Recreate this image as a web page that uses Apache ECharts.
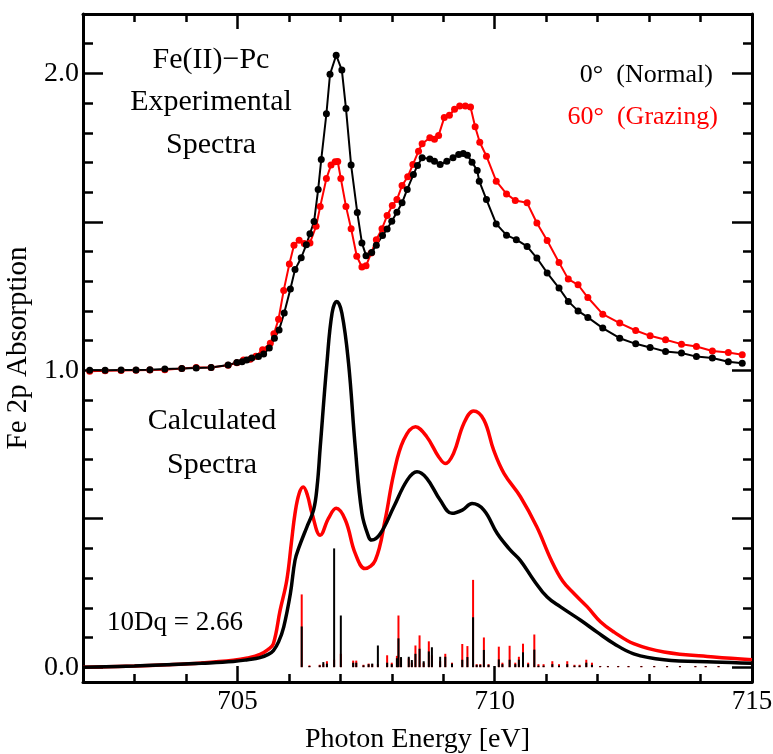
<!DOCTYPE html>
<html>
<head>
<meta charset="utf-8">
<script src="https://cdn.jsdelivr.net/npm/echarts@6/dist/echarts.min.js"></script>
<style>
html,body{margin:0;padding:0;background:#fff;}
#chart{width:773px;height:754px;}
</style>
</head>
<body>
<div id="chart"></div>
<script>
// ---- Data ----
// Experimental, 0° (Normal) – black
const expBlackE = [702.13,702.43,702.74,703.03,703.30,703.59,703.92,704.20,704.49,704.82,704.99,705.09,705.18,705.28,705.41,705.51,705.62,705.72,705.81,705.91,706.03,706.12,706.24,706.34,706.41,706.49,706.57,706.63,706.73,706.80,706.92,707.03,707.11,707.21,707.33,707.42,707.50,707.61,707.70,707.82,707.91,708.00,708.10,708.20,708.30,708.42,708.50,708.59,708.74,708.83,708.94,709.07,709.19,709.30,709.39,709.47,709.56,709.66,709.70,709.84,710.03,710.23,710.42,710.63,710.82,711.02,711.25,711.43,711.62,711.81,712.10,712.43,712.74,713.02,713.32,713.63,713.92,714.23,714.54,714.81];
const expBlackY = [1.000,1.000,1.001,1.001,1.002,1.004,1.006,1.008,1.009,1.018,1.026,1.029,1.035,1.041,1.046,1.055,1.075,1.108,1.136,1.193,1.274,1.339,1.379,1.423,1.460,1.501,1.609,1.710,1.864,1.997,2.061,2.011,1.882,1.691,1.531,1.429,1.386,1.397,1.421,1.454,1.476,1.502,1.532,1.564,1.609,1.659,1.690,1.716,1.712,1.704,1.693,1.704,1.716,1.727,1.730,1.724,1.701,1.673,1.637,1.575,1.493,1.455,1.440,1.417,1.378,1.328,1.277,1.232,1.200,1.178,1.142,1.108,1.089,1.077,1.063,1.058,1.046,1.041,1.029,1.024];
// Experimental, 60° (Grazing) – red
const expRedE = [702.13,702.43,702.74,703.03,703.30,703.59,703.92,704.20,704.49,704.82,704.99,705.12,705.25,705.36,705.49,705.64,705.71,705.80,705.90,706.01,706.10,706.20,706.30,706.41,706.53,706.61,706.73,706.82,706.90,706.95,707.01,707.11,707.21,707.32,707.42,707.50,707.60,707.70,707.81,707.91,708.01,708.10,708.20,708.31,708.41,708.52,708.59,708.74,708.83,708.91,709.02,709.12,709.22,709.32,709.43,709.53,709.62,709.71,709.84,710.03,710.23,710.40,710.63,710.82,711.02,711.25,711.43,711.62,711.81,712.10,712.43,712.74,713.02,713.32,713.63,713.92,714.23,714.54,714.81];
const expRedY = [0.997,0.998,0.999,1.000,1.001,1.002,1.006,1.009,1.009,1.017,1.025,1.035,1.037,1.047,1.069,1.091,1.123,1.172,1.269,1.358,1.421,1.438,1.427,1.429,1.485,1.552,1.646,1.691,1.702,1.703,1.646,1.552,1.477,1.384,1.348,1.352,1.395,1.440,1.477,1.521,1.555,1.575,1.622,1.652,1.693,1.738,1.763,1.783,1.778,1.791,1.851,1.859,1.879,1.890,1.890,1.887,1.820,1.768,1.721,1.637,1.594,1.572,1.564,1.496,1.437,1.363,1.307,1.288,1.245,1.189,1.159,1.134,1.116,1.103,1.088,1.080,1.065,1.060,1.052];
// Calculated – black
const calcBlackE = [702.0,703.0,703.63,704.3,704.92,705.2,705.44,705.6,705.7,705.8,705.9,706.03,706.12,706.2,706.35,706.48,706.55,706.61,706.74,706.84,706.93,707.03,707.16,707.29,707.42,707.55,707.61,707.78,708.04,708.30,708.49,708.68,708.94,709.17,709.37,709.56,709.79,710.05,710.30,710.50,710.76,711.02,711.28,711.67,711.99,712.32,712.70,713.29,714.26,715.0];
const calcBlackY = [0.000,0.004,0.008,0.013,0.019,0.025,0.032,0.043,0.056,0.085,0.135,0.248,0.360,0.405,0.472,0.529,0.610,0.742,1.024,1.193,1.232,1.193,1.024,0.742,0.518,0.439,0.428,0.450,0.540,0.630,0.658,0.636,0.563,0.518,0.529,0.551,0.529,0.450,0.395,0.359,0.293,0.236,0.203,0.158,0.118,0.079,0.045,0.025,0.017,0.013];
// Calculated – red
const calcRedE = [702.0,703.0,703.63,704.3,704.92,705.2,705.44,705.6,705.7,705.83,705.96,706.05,706.12,706.20,706.28,706.36,706.45,706.61,706.77,706.92,707.10,707.29,707.48,707.68,707.87,708.04,708.23,708.46,708.68,708.91,709.04,709.20,709.40,709.59,709.79,709.98,710.18,710.50,710.82,711.10,711.32,711.54,711.80,712.06,712.32,712.70,713.29,714.26,715.0];
const calcRedY = [0.000,0.004,0.008,0.014,0.023,0.031,0.043,0.060,0.079,0.191,0.293,0.420,0.518,0.585,0.607,0.580,0.518,0.444,0.501,0.535,0.495,0.383,0.332,0.360,0.495,0.653,0.765,0.810,0.776,0.709,0.686,0.720,0.821,0.863,0.833,0.731,0.653,0.574,0.472,0.360,0.290,0.248,0.203,0.152,0.118,0.079,0.051,0.034,0.025];
// Stick spectra
const stickE = [706.25,706.40,706.60,706.67,706.74,706.88,707.01,707.25,707.31,707.45,707.55,707.62,707.73,707.91,708.00,708.10,708.13,708.18,708.33,708.39,708.46,708.54,708.62,708.72,708.78,708.94,709.04,709.17,709.37,709.47,709.58,709.65,709.72,709.79,709.88,710.08,710.15,710.29,710.40,710.47,710.55,710.65,710.77,710.85,710.95,711.12,711.25,711.41,711.55,711.65,711.78,711.89,712.05,712.20,712.40,712.60,712.85,713.10,713.35,713.60,713.90,714.10,714.35];
const stickRed = [0.245,0.006,0.008,0.010,0.020,0.025,0.045,0.022,0.022,0.008,0.012,0.010,0.010,0.040,0.015,0.038,0.174,0.030,0.030,0.015,0.073,0.107,0.015,0.087,0.040,0.020,0.045,0.015,0.078,0.071,0.294,0.010,0.010,0.100,0.010,0.069,0.015,0.072,0.015,0.035,0.079,0.015,0.110,0.010,0.010,0.020,0.010,0.020,0.008,0.008,0.025,0.015,0.004,0.004,0.004,0.004,0.004,0.004,0.004,0.004,0.004,0.004,0.004];
const stickBlack = [0.137,0.004,0.006,0.017,0.012,0.400,0.174,0.015,0.015,0.006,0.010,0.012,0.073,0.015,0.010,0.030,0.097,0.034,0.035,0.024,0.045,0.062,0.020,0.053,0.067,0.035,0.035,0.012,0.025,0.034,0.168,0.008,0.008,0.058,0.008,0.026,0.010,0.025,0.010,0.025,0.050,0.010,0.059,0.005,0.005,0.010,0.005,0.010,0.005,0.005,0.015,0.008,0.003,0.003,0.003,0.003,0.003,0.003,0.003,0.003,0.003,0.003,0.003];
// Tick values
const xMinorTicks = [702,703,704,705,706,707,708,709,710,711,712,713,714,715];
const xMajorTicks = [705,710,715];
const xLabels = [705,710,715];
const yMinorTicks = [0,0.1,0.2,0.3,0.4,0.5,0.6,0.7,0.8,0.9,1.0,1.1,1.2,1.3,1.4,1.5,1.6,1.7,1.8,1.9,2.0,2.1,2.2];
const yMajorTicks = [0,0.5,1.0,1.5,2.0];
const yLabels = [0,1,2];

const zip = (a, b) => a.map((v, i) => [v, b[i]]);
const FONT = '"Liberation Serif", "DejaVu Serif", serif';
const X_MIN = 702, X_MAX = 715, Y_MIN = -0.05, Y_MAX = 2.2;

function xAx(pos, ticks, len, showLine, labels) {
  return {
    type: 'value', position: pos, min: X_MIN, max: X_MAX, interval: 1,
    axisLine: {show: showLine, onZero: false, lineStyle: {color: '#000', width: 3}},
    axisTick: {show: true, inside: true, length: len, customValues: ticks, lineStyle: {color: '#000', width: 2.5}},
    axisLabel: labels ? {show: true, customValues: labels, fontSize: 27, fontFamily: FONT, color: '#000', margin: 6} : {show: false},
    splitLine: {show: false}
  };
}
function yAx(pos, ticks, len, showLine, labels) {
  return {
    type: 'value', position: pos, min: Y_MIN, max: Y_MAX,
    axisLine: {show: showLine, onZero: false, lineStyle: {color: '#000', width: 3}},
    axisTick: {show: true, inside: true, length: len, customValues: ticks, lineStyle: {color: '#000', width: 2.5}},
    axisLabel: labels ? {show: true, customValues: labels, formatter: v => Number(v).toFixed(1), fontSize: 28, fontFamily: FONT, color: '#000', margin: 4} : {show: false},
    splitLine: {show: false}
  };
}

const xAxes = [
  xAx('bottom', xMinorTicks, 8, true, xLabels),
  xAx('bottom', xMajorTicks, 16, false, null),
  xAx('top', xMinorTicks, 8, true, null),
  xAx('top', xMajorTicks, 15, false, null)
];
xAxes[0].name = 'Photon Energy [eV]';
xAxes[0].nameLocation = 'middle';
xAxes[0].nameGap = 44;
xAxes[0].nameTextStyle = {fontSize: 28, fontFamily: FONT, color: '#000'};

const yAxes = [
  yAx('left', yMinorTicks, 10, true, yLabels),
  yAx('left', yMajorTicks, 20, false, null),
  yAx('right', yMinorTicks, 9, true, null),
  yAx('right', yMajorTicks, 20, false, null)
];
yAxes[0].name = 'Fe 2p Absorption';
yAxes[0].nameLocation = 'middle';
yAxes[0].nameGap = 47;
yAxes[0].nameTextStyle = {fontSize: 29, fontFamily: FONT, color: '#000'};

const chart = echarts.init(document.getElementById('chart'), null, {renderer: 'canvas'});
const txt = (x, y, text, size, align, color) => ({
  type: 'text', x: x, y: y, silent: true,
  style: {text: text, fontSize: size, fontFamily: FONT, fill: color || '#000', align: align || 'center', verticalAlign: 'middle'}
});

chart.setOption({
  animation: false,
  backgroundColor: '#fff',
  grid: {left: 83, right: 21, top: 14, bottom: 72, containLabel: false, outerBoundsMode: 'none'},
  xAxis: xAxes,
  yAxis: yAxes,
  series: [
    {type: 'bar', name: 'stickRed', data: zip(stickE, stickRed), barWidth: 2, barGap: '-100%', itemStyle: {color: '#ff0000'}, silent: true},
    {type: 'bar', name: 'stickBlack', data: zip(stickE, stickBlack), barWidth: 2, barGap: '-100%', itemStyle: {color: '#000'}, silent: true},
    {type: 'line', name: 'calcRed', data: zip(calcRedE, calcRedY), smooth: 0.4, showSymbol: false, lineStyle: {color: '#ff0000', width: 3.5}, silent: true},
    {type: 'line', name: 'calcBlack', data: zip(calcBlackE, calcBlackY), smooth: 0.4, showSymbol: false, lineStyle: {color: '#000', width: 3.5}, silent: true},
    {type: 'line', name: 'expRed', data: zip(expRedE, expRedY), symbol: 'circle', symbolSize: 7, showAllSymbol: true, lineStyle: {color: '#ff0000', width: 2}, itemStyle: {color: '#ff0000'}, silent: true},
    {type: 'line', name: 'expBlack', data: zip(expBlackE, expBlackY), symbol: 'circle', symbolSize: 7, showAllSymbol: true, lineStyle: {color: '#000', width: 2}, itemStyle: {color: '#000'}, silent: true}
  ],
  graphic: [
    txt(211, 60, 'Fe(II)\u2212Pc', 30),
    txt(211, 102, 'Experimental', 30),
    txt(211, 145, 'Spectra', 30),
    txt(212, 421, 'Calculated', 30),
    txt(212, 465, 'Spectra', 30),
    txt(107, 623, '10Dq = 2.66', 27, 'left'),
    txt(713, 75, '0\u00b0  (Normal)', 26, 'right'),
    txt(718, 117, '60\u00b0  (Grazing)', 26, 'right', '#ff0000')
  ]
});
</script>
</body>
</html>
